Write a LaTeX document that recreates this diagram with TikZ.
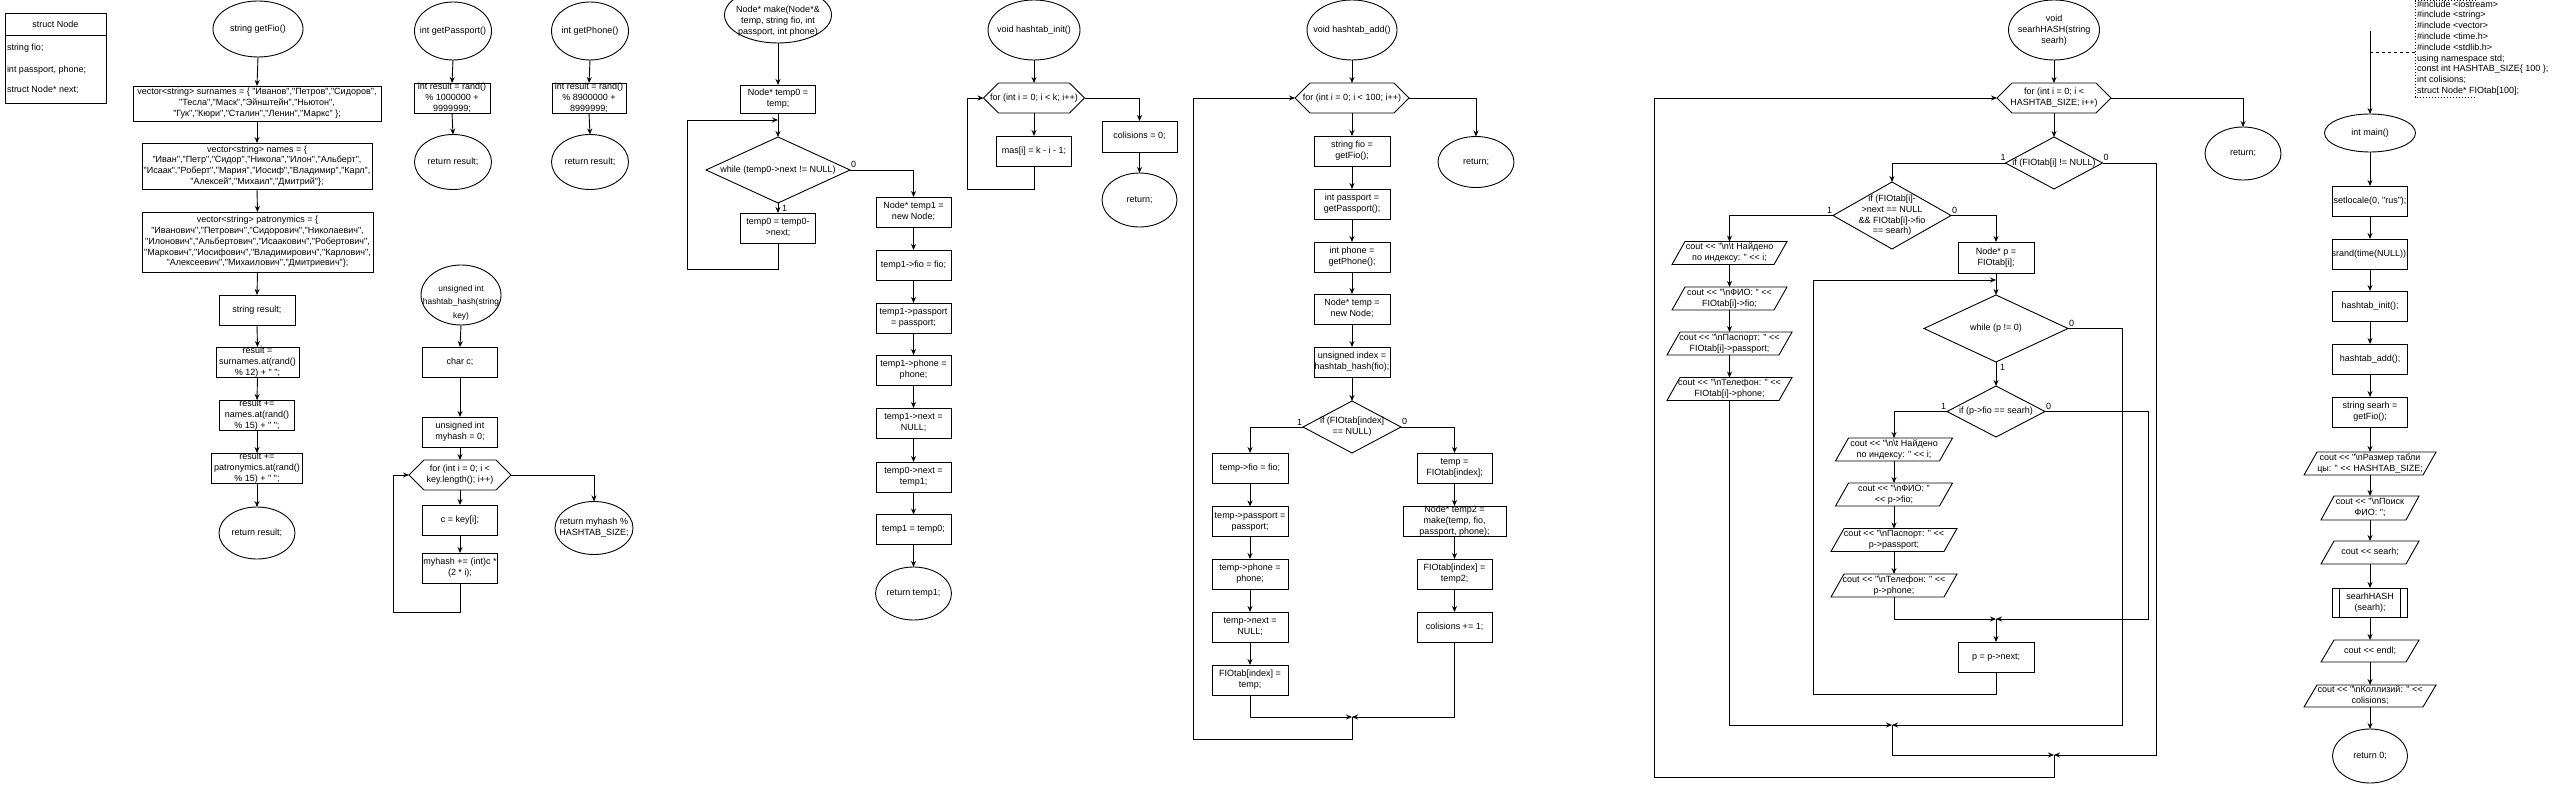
\documentclass[tikz,border=0pt]{standalone}
\usepackage{fontspec}
\setmainfont{Liberation Sans}
\newfontfamily\lsans{Liberation Sans}
\usetikzlibrary{shapes.geometric,arrows.meta}
\newcommand{\txo}[2]{\smash{\makebox[0pt]{\raisebox{#1}{\begin{tabular}{@{}c@{}}#2\end{tabular}}}}}
\newcommand{\tx}[1]{\txo{-2.3pt}{#1}}
\newcommand{\bs}{\textbackslash}
\newcommand{\bxnode}[5]{\node[box,minimum width=#3pt,minimum height=#4pt] (#1) at (#2) {\tx{#5}};}
\newcommand{\elnode}[5]{\node[ell,minimum width=#3pt,minimum height=#4pt] (#1) at (#2) {\tx{#5}};}
\newcommand{\dmnode}[5]{\node[dia,minimum width=#3pt,minimum height=#4pt] (#1) at (#2) {\tx{#5}};}
\newcommand{\hxnode}[5]{\node[shp,minimum width=#3pt,minimum height=#4pt] (#1) at (#2) {\tx{#5}};
  \draw[lw] ([xshift=15pt]#1.north west) -- ([xshift=-15pt]#1.north east) -- (#1.east) -- ([xshift=-15pt]#1.south east) -- ([xshift=15pt]#1.south west) -- (#1.west) -- cycle;}
\newcommand{\pgnode}[5]{\node[shp,minimum width=#3pt,minimum height=#4pt] (#1) at (#2) {\tx{#5}};
  \draw[lw] ([xshift=13pt]#1.north west) -- (#1.north east) -- ([xshift=-13pt]#1.south east) -- (#1.south west) -- cycle;}
\newcommand{\sbnode}[5]{\node[box,minimum width=#3pt,minimum height=#4pt] (#1) at (#2) {\tx{#5}};
  \draw[lw] ([xshift=7pt]#1.north west) -- ([xshift=7pt]#1.south west) ([xshift=-7pt]#1.north east) -- ([xshift=-7pt]#1.south east);}
\begin{document}
\begin{tikzpicture}[x=1pt,y=-1pt,
  every node/.style={font={\lsans\fontsize{9}{10.8}\selectfont}, inner sep=0pt, outer sep=0pt},
  lw/.style={line width=0.9pt},
  box/.style={draw, lw, rectangle},
  ell/.style={draw, lw, ellipse},
  dia/.style={draw, lw, diamond},
  shp/.style={rectangle},
  ar/.style={lw, -{Stealth[length=6pt,width=5pt]}},
  lab/.style={font={\lsans\fontsize{9}{10.8}\selectfont}}]
\fill[white] (0,0) rectangle (2560,786);
\useasboundingbox (0,0) rectangle (2560,786);

% ---------- struct Node
\node[box, minimum width=101pt, minimum height=90pt] (st) at (55.5,58) {};
\draw[lw] ([yshift=-22pt]st.north west) -- ([yshift=-22pt]st.north east);
\node (stt) at (55.5,24) {struct Node};
\node[anchor=west] (st1) at (7,48) {string fio;};
\node[anchor=west] (st2) at (7,70) {int passport, phone;};
\node[anchor=west] (st3) at (7,90) {struct Node* next;};

% ---------- getFio
\elnode{f0}{258,29}{90}{56}{string getFio()}
\bxnode{f1}{257,103.5}{248}{35}{vector<string> surnames = \{ "Иванов","Петров","Сидоров",\\"Тесла","Маск","Эйнштейн","Ньютон",\\"Гук","Кюри","Сталин","Ленин","Маркс" \};}
\bxnode{f2}{257,166}{230}{46}{vector<string> names = \{\\"Иван","Петр","Сидор","Никола","Илон","Альберт",\\"Исаак","Роберт","Мария","Иосиф","Владимир","Карл",\\"Алексей","Михаил","Дмитрий"\};}
\bxnode{f3}{257.5,242}{231}{60}{vector<string> patronymics = \{\\"Иванович","Петрович","Сидорович","Николаевич",\\"Илонович","Альбертович","Исаакович","Робертович",\\"Маркович","Иосифович","Владимирович","Карлович",\\"Алексеевич","Михаилович","Дмитриевич"\};}
\bxnode{f4}{257,310}{76}{30}{string result;}
\bxnode{f5}{257.5,362}{83}{30}{result =\\surnames.at(rand()\\\% 12) + " ";}
\bxnode{f6}{257,415}{75}{30}{result +=\\names.at(rand()\\\% 15) + " ";}
\bxnode{f7}{257,468}{91}{30}{result +=\\patronymics.at(rand()\\\% 15) + " ";}
\elnode{f8}{257,533}{76}{52}{return result;}
\foreach \a/\b in {f0/f1,f1/f2,f2/f3,f3/f4,f4/f5,f5/f6,f6/f7,f7/f8}
  \draw[ar] (\a.south) -- (\b.north);

% ---------- getPassport / getPhone
\elnode{pa0}{453,31}{77}{58}{int getPassport()}
\bxnode{pa1}{452,98}{76}{30}{int result = rand()\\\% 1000000 +\\9999999;}
\elnode{pa2}{453,162}{77}{55}{return result;}
\elnode{ph0}{590,31}{77}{58}{int getPhone()}
\bxnode{ph1}{589,98}{74}{30}{int result = rand()\\\% 8900000 +\\8999999;}
\elnode{ph2}{590,162}{77}{55}{return result;}
\foreach \a/\b in {pa0/pa1,pa1/pa2,ph0/ph1,ph1/ph2}
  \draw[ar] (\a.south) -- (\b.north);

% ---------- hashtab_hash
\node[ell, minimum width=80pt, minimum height=60pt, font={\lsans\fontsize{8.4}{13.5}\selectfont}] (hh0) at (461,295) {\txo{-9pt}{unsigned int\\hashtab\_hash(string\\key)}};
\bxnode{hh1}{460,362}{75}{30}{char c;}
\bxnode{hh2}{460,432}{75}{30}{unsigned int\\myhash = 0;}
\hxnode{hh3}{460,475}{102}{30}{for (int i = 0; i <\\key.length(); i++)}
\bxnode{hh4}{460,520}{75}{30}{c = key[i];}
\bxnode{hh5}{460,568}{75}{30}{myhash += (int)c *\\(2 * i);}
\elnode{hh6}{594,528}{78}{53}{return myhash \%\\HASHTAB\_SIZE;}
\foreach \a/\b in {hh0/hh1,hh1/hh2,hh2/hh3,hh3/hh4,hh4/hh5}
  \draw[ar] (\a.south) -- (\b.north);
\draw[ar] (hh5.south) -- ++(0,29) -- ++(-67,0) |- (hh3.west);
\draw[ar] (hh3.east) -| (hh6.north);

% ---------- make
\node[ell, minimum width=107pt, minimum height=56pt] (mk0) at (778,15) {\txo{-8.3pt}{Node* make(Node*\&\\temp, string fio, int\\passport, int phone)}};
\bxnode{mk1}{778,99}{75}{28}{Node* temp0 =\\temp;}
\dmnode{mk2}{778,170}{144}{66}{while (temp0->next != NULL)}
\bxnode{mk3}{778,228}{75}{30}{temp0 = temp0-\\>next;}
\coordinate (mkj) at (778,120);
\bxnode{mk4}{913.5,212}{75}{30}{Node* temp1 =\\new Node;}
\bxnode{mk5}{913.5,265}{75}{30}{temp1->fio = fio;}
\bxnode{mk6}{913.5,318}{75}{30}{temp1->passport\\= passport;}
\bxnode{mk7}{913.5,370}{75}{30}{temp1->phone =\\phone;}
\bxnode{mk8}{913.5,423}{75}{30}{temp1->next =\\NULL;}
\bxnode{mk9}{913.5,477}{75}{30}{temp0->next =\\temp1;}
\bxnode{mk10}{913.5,529.5}{75}{30}{temp1 = temp0;}
\elnode{mk11}{913.5,593.5}{76}{53}{return temp1;}
\foreach \a/\b in {mk0/mk1,mk1/mk2,mk2/mk3,mk4/mk5,mk5/mk6,mk6/mk7,mk7/mk8,mk8/mk9,mk9/mk10,mk10/mk11}
  \draw[ar] (\a.south) -- (\b.north);
\draw[ar] (mk3.south) -- ++(0,26) -- ++(-91,0) |- (mkj);
\draw[ar] (mk2.east) -| (mk4.north);
\node[lab, anchor=south west] (mkl0) at ([xshift=1pt,yshift=2pt]mk2.east) {0};
\node[lab, anchor=north west] (mkl1) at ([xshift=4pt,yshift=-2pt]mk2.south) {1};

% ---------- hashtab_init
\elnode{in0}{1034,30}{92}{60}{void hashtab\_init()}
\hxnode{in1}{1034,98}{101}{30}{for (int i = 0; i < k; i++)}
\bxnode{in2}{1034,151}{75}{30}{mas[i] = k - i - 1;}
\bxnode{in3}{1139.5,136.5}{75}{31}{colisions = 0;}
\elnode{in4}{1139.5,200}{75}{54}{return;}
\foreach \a/\b in {in0/in1,in1/in2,in3/in4}
  \draw[ar] (\a.south) -- (\b.north);
\draw[ar] (in2.south) -- ++(0,23) -- ++(-67,0) |- (in1.west);
\draw[ar] (in1.east) -| (in3.north);

% ---------- hashtab_add
\elnode{ad0}{1352,30}{90}{60}{void hashtab\_add()}
\hxnode{ad1}{1352,98}{114}{30}{for (int i = 0; i < 100; i++)}
\bxnode{ad2}{1352,151}{76}{30}{string fio =\\getFio();}
\bxnode{ad3}{1352,204}{76}{30}{int passport =\\getPassport();}
\bxnode{ad4}{1352,257}{76}{30}{int phone =\\getPhone();}
\bxnode{ad5}{1352,309}{76}{30}{Node* temp =\\new Node;}
\bxnode{ad6}{1352,362}{76}{30}{unsigned index =\\hashtab\_hash(fio);}
\dmnode{ad7}{1352,427}{98}{52}{if (FIOtab[index]\\== NULL)}
\elnode{ad8}{1476,162}{76}{51}{return;}
\bxnode{al1}{1250,468}{76}{30}{temp->fio = fio;}
\bxnode{al2}{1250,521.5}{76}{30}{temp->passport =\\passport;}
\bxnode{al3}{1250,574}{76}{30}{temp->phone =\\phone;}
\bxnode{al4}{1250,627}{76}{30}{temp->next =\\NULL;}
\bxnode{al5}{1250,680}{76}{30}{FIOtab[index] =\\temp;}
\bxnode{ag1}{1454.5,468}{75}{30}{temp =\\FIOtab[index];}
\bxnode{ag2}{1454.5,521}{103}{30}{Node* temp2 =\\make(temp, fio,\\passport, phone);}
\bxnode{ag3}{1454.5,574}{75}{30}{FIOtab[index] =\\temp2;}
\bxnode{ag4}{1454.5,627}{75}{30}{colisions += 1;}
\foreach \a/\b in {ad0/ad1,ad1/ad2,ad2/ad3,ad3/ad4,ad4/ad5,ad5/ad6,ad6/ad7,al1/al2,al2/al3,al3/al4,al4/al5,ag1/ag2,ag2/ag3,ag3/ag4}
  \draw[ar] (\a.south) -- (\b.north);
\draw[ar] (ad1.east) -| (ad8.north);
\draw[ar] (ad7.west) -| (al1.north);
\draw[ar] (ad7.east) -| (ag1.north);
\node[lab, anchor=south east] (adl1) at ([xshift=-1pt,yshift=2pt]ad7.west) {1};
\node[lab, anchor=south west] (adl0) at ([xshift=1pt,yshift=2pt]ad7.east) {0};
\coordinate (adm) at (1352,717);
\draw[ar] (al5.south) |- (adm);
\draw[ar] (ag4.south) |- (adm);
\draw[ar] (adm) -- ++(0,22) -- ++(-159,0) |- (ad1.west);

% ---------- searhHASH
\elnode{s0}{2054,30}{91}{60}{void\\searhHASH(string\\searh)}
\hxnode{s1}{2054,98}{114}{30}{for (int i = 0; i <\\HASHTAB\_SIZE; i++)}
\dmnode{s2}{2054,163}{97}{52}{if (FIOtab[i] != NULL)}
\elnode{sret}{2243,153.5}{76}{53}{return;}
\dmnode{s3}{1892,215.5}{118}{67}{if (FIOtab[i]-\\>next == NULL\\\&\& FIOtab[i]->fio\\== searh)}
\pgnode{p1}{1729.5,253}{115}{23}{cout << "\bs n\bs t Найдено\\по индексу: " << i;}
\pgnode{p2}{1729.5,298.5}{115}{23}{cout << "\bs nФИО: " <<\\FIOtab[i]->fio;}
\pgnode{p3}{1729.5,343.5}{125}{23}{cout << "\bs nПаспорт: " <<\\FIOtab[i]->passport;}
\pgnode{p4}{1729.5,389}{125}{23}{cout << "\bs nТелефон: " <<\\FIOtab[i]->phone;}
\bxnode{s4}{1996,257.5}{76}{31}{Node* p =\\FIOtab[i];}
\dmnode{s5}{1996,328.5}{144}{67}{while (p != 0)}
\dmnode{s6}{1996,411.5}{98}{51}{if (p->fio == searh)}
\pgnode{q1}{1894,449.5}{117}{23}{cout << "\bs n\bs t Найдено\\по индексу: " << i;}
\pgnode{q2}{1894,494.5}{117}{23}{cout << "\bs nФИО: "\\<< p->fio;}
\pgnode{q3}{1894,540}{126}{23}{cout << "\bs nПаспорт: " <<\\p->passport;}
\pgnode{q4}{1894,585.5}{126}{23}{cout << "\bs nТелефон: " <<\\p->phone;}
\bxnode{s7}{1996,657}{76}{30}{p = p->next;}
\coordinate (sj) at (1996,280);
\coordinate (sm1) at (1996,619);
\coordinate (sm2) at (1892,725);
\coordinate (sm3) at (2054,755);
\foreach \a/\b in {s0/s1,s1/s2,p1/p2,p2/p3,p3/p4,s4/s5,s5/s6,q1/q2,q2/q3,q3/q4}
  \draw[ar] (\a.south) -- (\b.north);
\draw[ar] (s1.east) -| (sret.north);
\draw[ar] (s2.west) -| (s3.north);
\draw[ar] (s3.west) -| (p1.north);
\draw[ar] (s3.east) -| (s4.north);
\draw[ar] (s6.west) -| (q1.north);
\draw[ar] (q4.south) |- (sm1);
\draw[ar] (s6.east) -- ++(103,0) |- (sm1);
\draw[ar] (sm1) -- (s7.north);
\draw[ar] (s7.south) -- ++(0,22) -- ++(-183,0) |- (sj);
\draw[ar] (p4.south) |- (sm2);
\draw[ar] (s5.east) -- ++(54,0) |- (sm2);
\draw[ar] (sm2) |- (sm3);
\draw[ar] (s2.east) -- ++(54,0) |- (sm3);
\draw[ar] (sm3) -- ++(0,22) -- ++(-400,0) |- (s1.west);
\node[lab, anchor=south east] (s2l1) at ([xshift=0pt,yshift=2pt]s2.west) {1};
\node[lab, anchor=south west] (s2l0) at ([xshift=1pt,yshift=2pt]s2.east) {0};
\node[lab, anchor=south east] (s3l1) at ([xshift=-1pt,yshift=2pt]s3.west) {1};
\node[lab, anchor=south west] (s3l0) at ([xshift=1pt,yshift=2pt]s3.east) {0};
\node[lab, anchor=south west] (s5l0) at ([xshift=1pt,yshift=2pt]s5.east) {0};
\node[lab, anchor=north west] (s5l1) at ([xshift=4pt,yshift=-2pt]s5.south) {1};
\node[lab, anchor=south east] (s6l1) at ([xshift=-1pt,yshift=2pt]s6.west) {1};
\node[lab, anchor=south west] (s6l0) at ([xshift=1pt,yshift=2pt]s6.east) {0};

% ---------- main
\coordinate (ms) at (2370,31);
\elnode{m0}{2370,133}{91}{38}{int main()}
\bxnode{m1}{2370,201}{75}{30}{setlocale(0, "rus");}
\bxnode{m2}{2370,254}{75}{30}{srand(time(NULL));}
\bxnode{m3}{2370,306}{75}{30}{hashtab\_init();}
\bxnode{m4}{2370,359}{75}{30}{hashtab\_add();}
\bxnode{m5}{2370,412}{75}{30}{string searh =\\getFio();}
\pgnode{m6}{2370,463.5}{132}{23}{cout << "\bs nРазмер табли\\цы: " << HASHTAB\_SIZE;}
\pgnode{m7}{2370,508}{98}{24}{cout << "\bs nПоиск\\ФИО: ";}
\pgnode{m8}{2370,552.5}{98}{23}{cout << searh;}
\sbnode{m9}{2370,602.5}{75}{29}{searhHASH\\(searh);}
\pgnode{m10}{2370,651}{98}{22}{cout << endl;}
\pgnode{m11}{2370,696}{132}{22}{cout << "\bs nКоллизий: " <<\\colisions;}
\elnode{m12}{2370,756}{75}{54}{return 0;}
\draw[ar] (ms) -- (m0.north);
\foreach \a/\b in {m0/m1,m1/m2,m2/m3,m3/m4,m4/m5,m5/m6,m6/m7,m7/m8,m8/m9,m9/m10,m10/m11,m11/m12}
  \draw[ar] (\a.south) -- (\b.north);
% comment
\coordinate (cA) at (2370,52);
\coordinate (cB) at (2415,52);
\draw[lw, dash pattern=on 3pt off 3pt] (cA) -- (cB);
\draw[lw, dash pattern=on 1.5pt off 1.5pt] (2476,0.8) -- (2415,0.8) -- (2415,97) -- (2476,97);
\node[anchor=north west, align=left] (cmt) at (2417,0.5) {\#include <iostream>\\\#include <string>\\\#include <vector>\\\#include <time.h>\\\#include <stdlib.h>\\using namespace std;\\const int HASHTAB\_SIZE\{ 100 \};\\int colisions;\\struct Node* FIOtab[100];};
\end{tikzpicture}
\end{document}
